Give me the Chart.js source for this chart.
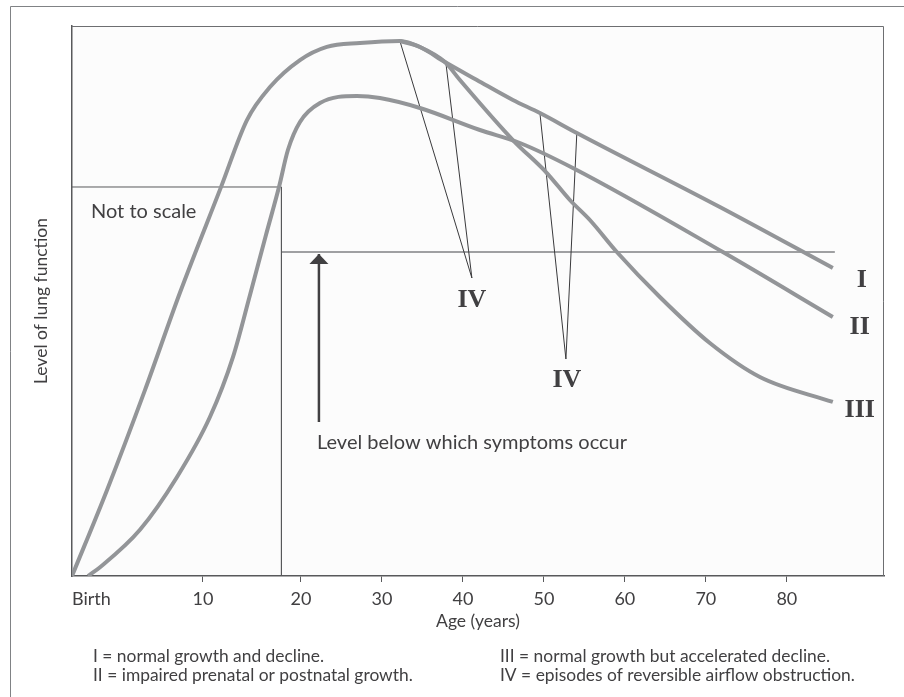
<!DOCTYPE html>
<html><head><meta charset="utf-8">
<script src="https://cdn.jsdelivr.net/npm/chart.js@4.4.1/dist/chart.umd.min.js"></script>
<style>
html,body{margin:0;padding:0;background:#fff;}
#wrap{position:relative;width:904px;height:697px;}
</style></head><body>
<div id="wrap"><canvas id="c" width="904" height="697"></canvas></div>
<script>
// ---------------- data (age in years, level of lung function 0-100, arbitrary) ----------------
const tickAges   = [0, 10, 20, 30, 40, 50, 60, 70, 80];
const tickLabels = ['Birth', '10', '20', '30', '40', '50', '60', '70', '80'];

// I = normal growth and decline
const curveIAges   = [0, 2.67, 5.57, 8.24, 11.84, 14.49, 16.84, 19.9, 23.2, 27.28, 32.22, 34.69, 37.78, 41.73, 46.17, 49.51, 54.07, 71.73, 85.68];
const curveILevels = [0, 15.6, 33.8, 51.5, 70.7, 82.9, 88.9, 93.8, 96.2, 96.9, 97.27, 96.18, 93.45, 90.18, 86.55, 84.18, 80.55, 67.09, 56.0];

// II = impaired prenatal or postnatal growth
const curveIIAges   = [1.22, 2.14, 5.19, 8.02, 10.71, 13.06, 14.8, 16.43, 17.76, 18.67, 19.9, 22.35, 26.91, 29.75, 34.69, 42.1, 47.04, 53.58, 72.1, 85.68];
const curveIILevels = [0, 1.6, 8.4, 18.0, 28.9, 39.8, 51.1, 62.0, 70.73, 77.45, 82.55, 86.0, 87.27, 86.9, 85.09, 81.09, 78.73, 74.18, 58.9, 47.09];

// III = normal growth but accelerated decline (branches off curve I)
const curveIIIAges   = [32.22, 34.69, 37.78, 39.63, 46.17, 50.37, 53.21, 55.68, 59.01, 64.32, 70.49, 76.67, 85.68];
const curveIIILevels = [97.27, 96.18, 93.45, 90.18, 79.27, 73.27, 68.36, 64.73, 58.91, 50.73, 42.36, 36.18, 31.64];

// IV = episodes of reversible airflow obstruction (pointer lines)
const episodeAAges   = [32.22, 41.11, 37.9];
const episodeALevels = [97.27, 54.18, 93.27];
const episodeBAges   = [49.51, 52.72, 54.07];
const episodeBLevels = [84.18, 39.45, 80.55];

// "Not to scale" box and symptom threshold
const boxAges   = [0, 18.01, 18.01];
const boxLevels = [70.73, 70.73, 0];
const thresholdAges   = [18.01, 85.93];
const thresholdLevels = [58.91, 58.91];
const arrowAges   = [22.22, 22.22];
const arrowLevels = [28.0, 58.55];

// text annotations: [text, age, level]
const curveLabels = [['I', 89.26, 52.55], ['II', 89.0, 44.0], ['III', 89.0, 28.9], ['IV', 41.11, 48.9], ['IV', 52.84, 34.36]];
const noteLabels  = [['Not to scale', 1.45, 65.09], ['Level below which symptoms occur', 21.98, 23.09]];
const footnotes = [
  ['I = normal growth and decline.', 'III = normal growth but accelerated decline.'],
  ['II = impaired prenatal or postnatal growth.', 'IV = episodes of reversible airflow obstruction.']
];

// ---------------- axis stretch (first 20 years not to scale) ----------------
function warp(a) {
  if (a >= 20) return a;
  if (a >= 10) return 20 - (20 - a) * (9.8 / 8.1);
  return (20 - 10 * 9.8 / 8.1) - (10 - a) * (13.1 / 8.1);
}
const X_MAX = 92;

const SANS = 'Lato, "Open Sans", sans-serif';
const SERIF = '"Liberation Serif", "DejaVu Serif", serif';
const TEXT = '#414042';
const CURVE = '#939598';
const AXIS = '#58595b';

function pts(ages, levels) { return ages.map((a, i) => ({ x: warp(a), y: levels[i] })); }

function curveDs(ages, levels) {
  return { data: pts(ages, levels), borderColor: CURVE, borderWidth: 4, pointRadius: 0,
           cubicInterpolationMode: 'monotone', fill: false, borderCapStyle: 'butt' };
}
function thinDs(ages, levels, color, width) {
  return { data: pts(ages, levels), borderColor: color, borderWidth: width, pointRadius: 0,
           tension: 0, fill: false };
}

const decor = {
  id: 'decor',
  beforeDraw(chart) {
    const c = chart.ctx, a = chart.chartArea;
    c.save();
    c.fillStyle = '#ffffff';
    c.fillRect(0, 0, chart.width, chart.height);
    c.fillStyle = '#fcfcfc';
    c.fillRect(a.left, a.top, a.right - a.left, a.bottom - a.top);
    // outer frame (top & left)
    c.strokeStyle = '#808285'; c.lineWidth = 1;
    c.beginPath(); c.moveTo(10.5, chart.height); c.lineTo(10.5, 6.5); c.lineTo(chart.width, 6.5); c.stroke();
    c.restore();
  },
  afterDraw(chart) {
    const c = chart.ctx, a = chart.chartArea, xs = chart.scales.x, ys = chart.scales.y;
    const P = (age, lvl) => [xs.getPixelForValue(warp(age)), ys.getPixelForValue(lvl)];
    c.save();
    // plot frame top & right
    c.strokeStyle = '#6d6e71'; c.lineWidth = 1;
    c.beginPath(); c.moveTo(a.left, a.top + 0.5); c.lineTo(a.right - 0.5, a.top + 0.5); c.lineTo(a.right - 0.5, a.bottom); c.stroke();
    // arrow head at top of arrow shaft
    const tip = P(arrowAges[1], arrowLevels[1]);
    c.fillStyle = TEXT;
    c.beginPath(); c.moveTo(tip[0], tip[1]); c.lineTo(tip[0] - 9.5, tip[1] + 10); c.lineTo(tip[0] + 9.5, tip[1] + 10); c.closePath(); c.fill();
    // roman numeral labels
    c.font = 'bold 26px ' + SERIF; c.fillStyle = TEXT; c.textAlign = 'center'; c.textBaseline = 'alphabetic';
    curveLabels.forEach(([t, ag, lv]) => { const p = P(ag, lv); c.fillText(t, p[0], p[1]); });
    // notes
    c.font = '20px ' + SANS; c.textAlign = 'left';
    noteLabels.forEach(([t, ag, lv]) => { const p = P(ag, lv); c.fillText(t, p[0], p[1]); });
    // footnotes
    c.font = '17.4px ' + SANS;
    const colX = [93, 500], rowY = [662, 681];
    footnotes.forEach((row, r) => row.forEach((t, k) => c.fillText(t, colX[k], rowY[r])));
    c.restore();
  }
};

const chart = new Chart(document.getElementById('c'), {
  type: 'line',
  data: {
    datasets: [
      curveDs(curveIAges, curveILevels),
      curveDs(curveIIAges, curveIILevels),
      curveDs(curveIIIAges, curveIIILevels),
      thinDs(episodeAAges, episodeALevels, '#3a3a3c', 1),
      thinDs(episodeBAges, episodeBLevels, '#3a3a3c', 1),
      thinDs(boxAges, boxLevels, '#58595b', 1),
      thinDs(thresholdAges, thresholdLevels, '#808285', 1.5),
      thinDs(arrowAges, arrowLevels, TEXT, 2.5)
    ]
  },
  options: {
    responsive: false,
    animation: false,
    layout: { padding: { left: 0, top: 26, right: 20, bottom: 0 } },
    plugins: { legend: { display: false }, tooltip: { enabled: false } },
    scales: {
      x: {
        type: 'linear', min: warp(0), max: X_MAX,
        afterBuildTicks: s => { s.ticks = tickAges.map(a => ({ value: warp(a) })).concat([{ value: X_MAX }]); },
        afterFit: s => { s.height = 121; },
        ticks: { align: 'inner', autoSkip: false, maxRotation: 0, padding: 6, color: TEXT,
                 font: { family: SANS, size: 18 }, callback: (v, i) => (i < tickLabels.length ? tickLabels[i] : '') },
        grid: { drawOnChartArea: false, drawTicks: true, tickLength: 6, tickWidth: 1,
                tickColor: ctx => (ctx.index === 0 || ctx.index >= tickAges.length) ? 'rgba(0,0,0,0)' : AXIS },
        border: { display: true, color: AXIS, width: 1.5 },
        title: { display: true, text: 'Age (years)', color: TEXT, font: { family: SANS, size: 17.5 },
                 padding: { top: 0, bottom: 65 } }
      },
      y: {
        type: 'linear', min: 0, max: 100,
        afterFit: s => { s.width = 72; },
        ticks: { display: false },
        grid: { drawOnChartArea: false, drawTicks: false },
        border: { display: true, color: AXIS, width: 1.5 },
        title: { display: true, text: 'Level of lung function', color: TEXT, font: { family: SANS, size: 17.5 },
                 padding: { top: 31, bottom: 0 } }
      }
    }
  },
  plugins: [decor]
});
</script>
</body></html>
